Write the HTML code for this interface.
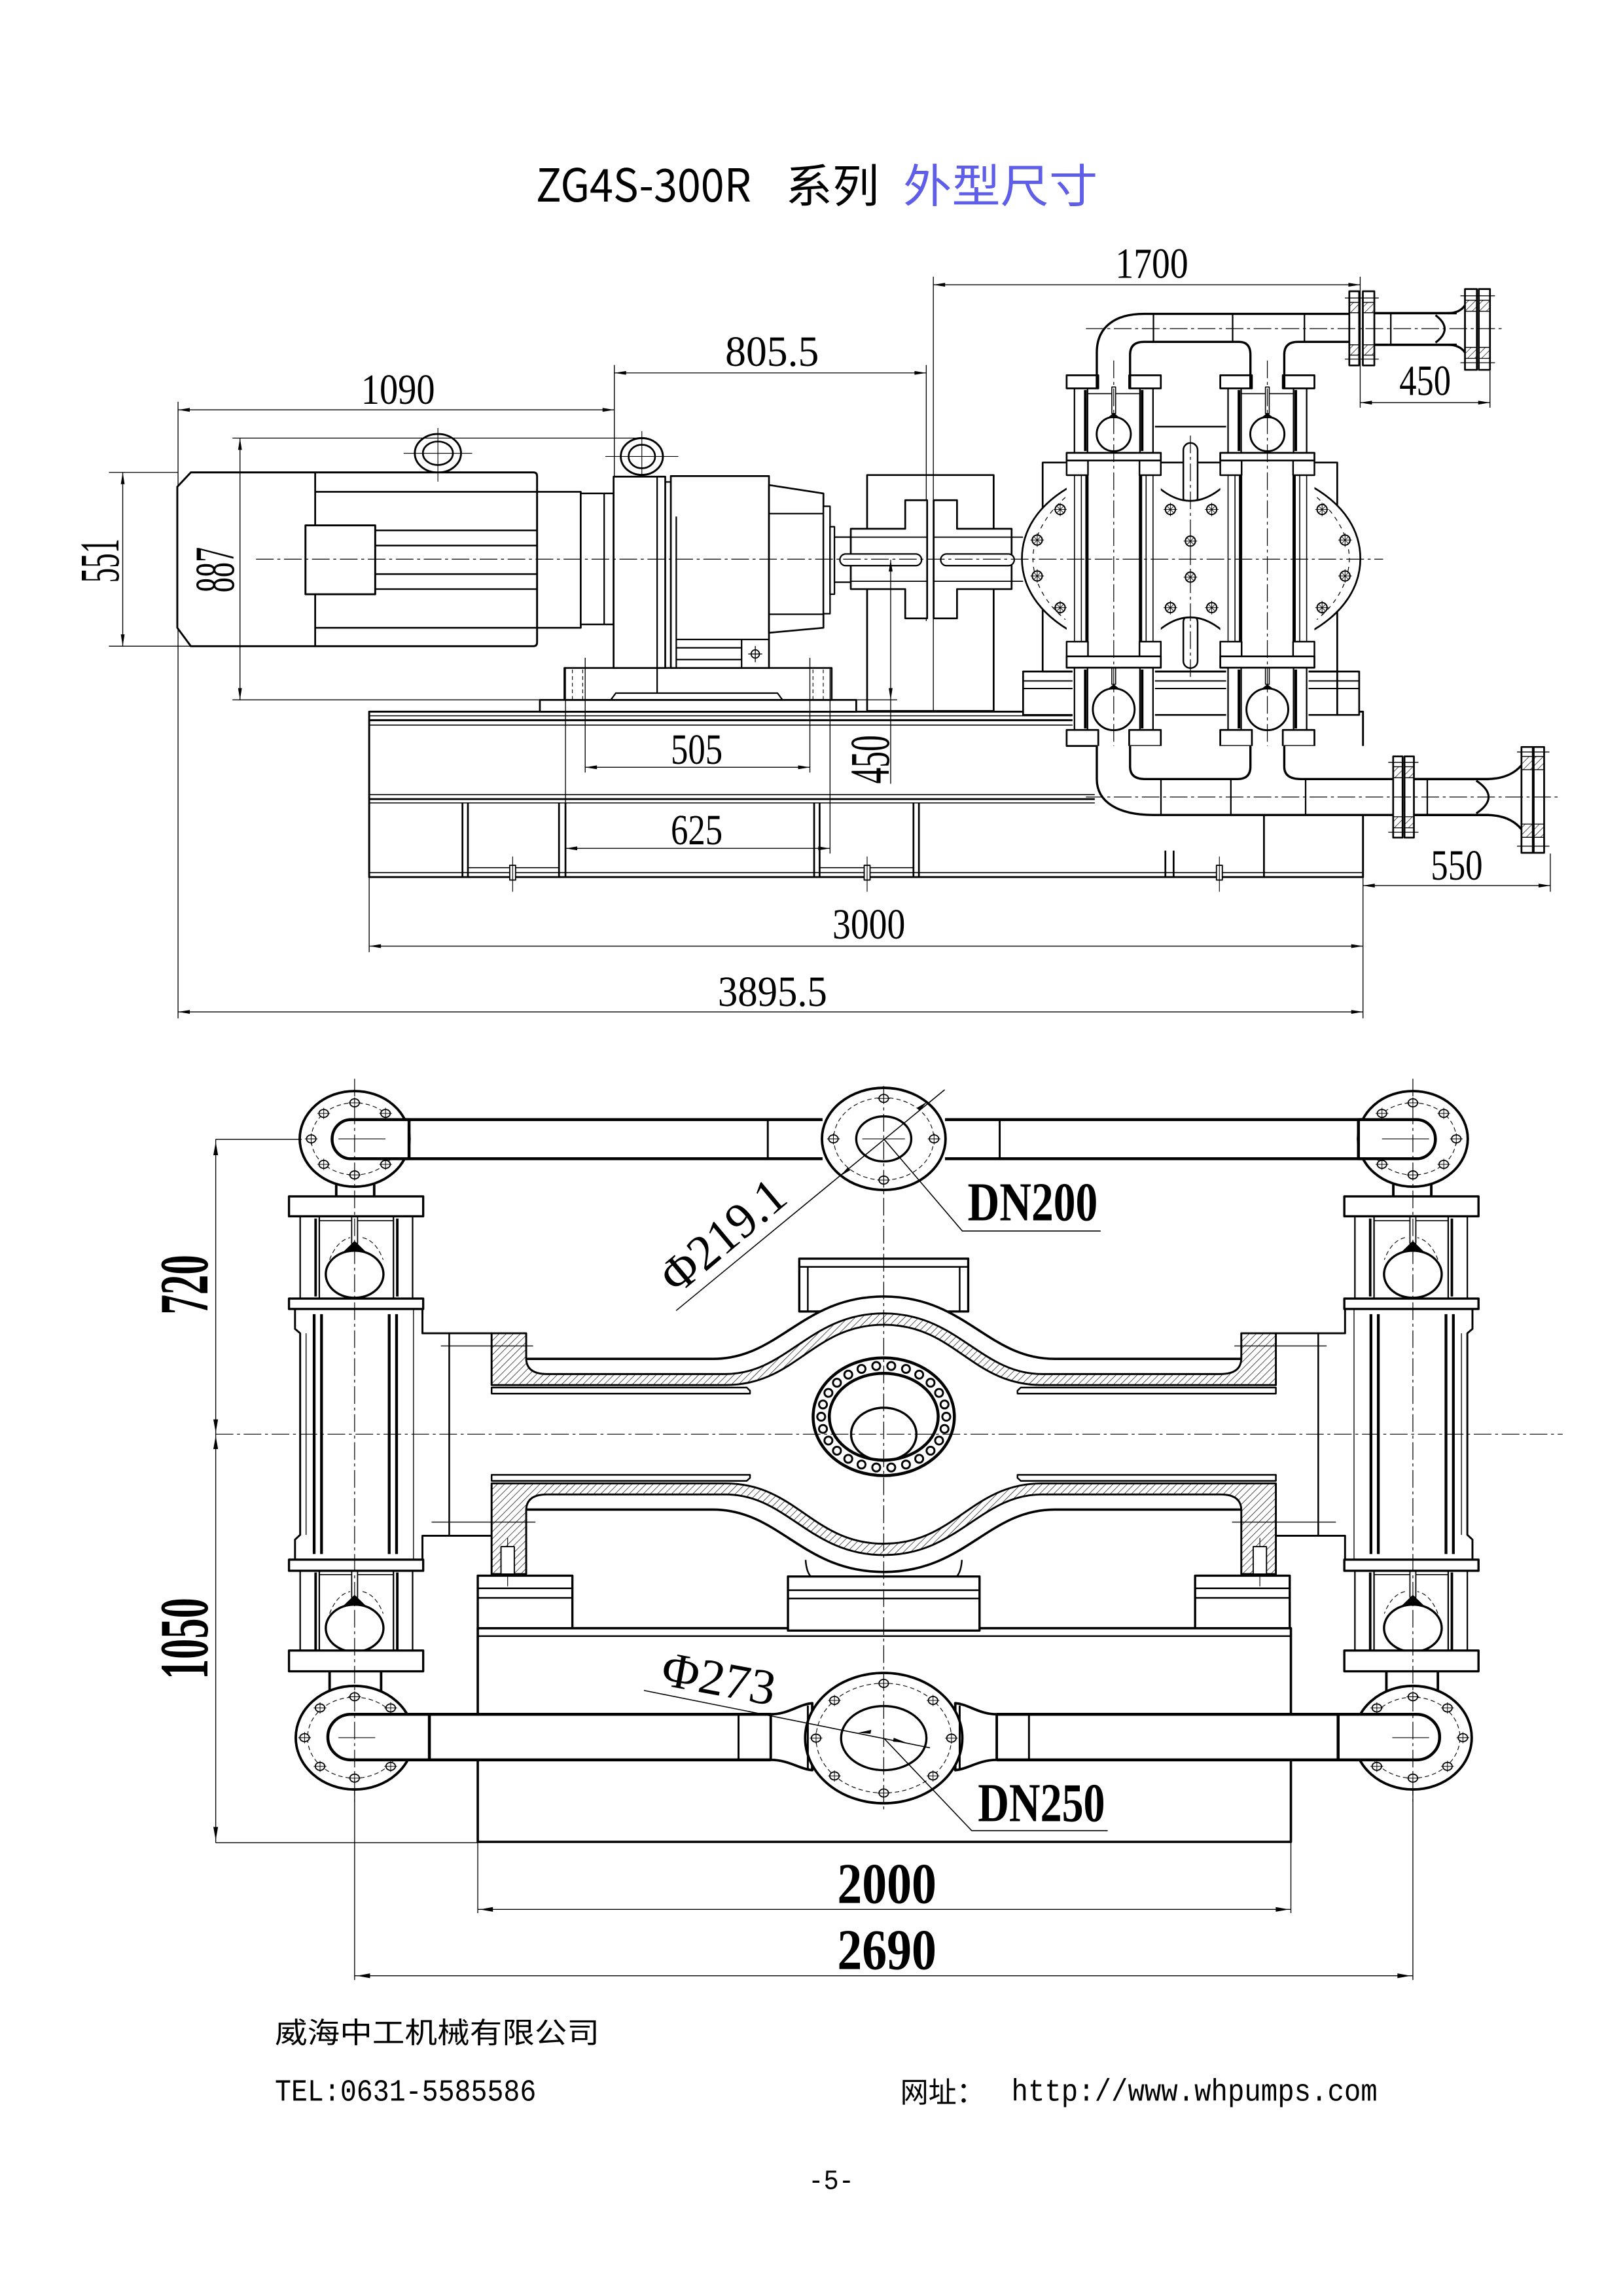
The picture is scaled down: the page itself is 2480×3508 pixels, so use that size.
<!DOCTYPE html>
<html><head><meta charset="utf-8"><title>ZG4S-300R 系列 外型尺寸</title>
<style>
html,body{margin:0;padding:0;background:#fff}
svg{display:block}
</style></head><body>
<svg xmlns="http://www.w3.org/2000/svg" xmlns:xlink="http://www.w3.org/1999/xlink" width="2480" height="3508" viewBox="0 0 1103 1560.2">
<defs>
<pattern id="hat" patternUnits="userSpaceOnUse" width="3.4" height="3.4" patternTransform="rotate(45)"><line x1="0" y1="0" x2="0" y2="3.4" stroke="#000" stroke-width=".6"/></pattern>
<g id="bt"><circle r="3.4" fill="#fff" stroke-width=".9"/><path d="M-4.6 0H4.6M0-4.6V4.6" stroke-width=".45"/><path d="M-2 -2L2 2M-2 2L2 -2" stroke-width=".4"/></g>
<g id="bolt"><ellipse rx="3.2" ry="2.7" fill="#fff" stroke-width=".8"/><path d="M-4.3 0H4.3M0-3.8V3.8" stroke-width=".45"/></g>
<!-- top view chamber (relative x) -->
<g id="ch">
 <rect x="-32" y="312.9" width="64" height="133.1" fill="#fff" stroke="none"/>
 <path stroke-width=".7" d="M-26.7 323V437M-22 323V437M22 323V437M26.7 323V437"/>
 <path stroke-width="2.2" d="M-18.2 314V445M18.2 314V445"/>
 <path stroke-width="1.1" fill="#fff" d="M-32 312.9h14.5v10h-14.5zM17.5 312.9h14.5v10h-14.5zM-32 436h14.5v10h-14.5zM17.5 436h14.5v10h-14.5z"/>
 <rect x="-28" y="263.9" width="56" height="43.8" fill="#fff" stroke="none"/>
 <path stroke-width="1" fill="#fff" d="M-26.7 263.9h8.9v43.8h-8.9zM17.8 263.9h8.9v43.8h-8.9z"/>
 <path stroke-width="1.8" d="M-19.3 265V306.5M19.3 265V306.5"/>
 <path stroke-width=".7" d="M-17.8 267.5H17.8"/>
 <circle cy="295" r="11.6" fill="#fff" stroke-width="1.3"/>
 <rect x="-1.3" y="263" width="2.6" height="18" fill="#fff" stroke-width=".7"/>
 <path d="M-4.5 284.2L0 280.5L4.5 284.2Z" fill="#000" stroke="none"/>
 <rect x="-32" y="255" width="21.5" height="8.9" fill="#fff" stroke-width="1.2"/>
 <rect x="10.5" y="255" width="21.5" height="8.9" fill="#fff" stroke-width="1.2"/>
 <rect x="-32" y="307.7" width="64" height="5.2" fill="#fff" stroke-width="1.2"/>
 <rect x="-28" y="453.7" width="56" height="42.3" fill="#fff" stroke="none"/>
 <path stroke-width="1" fill="#fff" d="M-26.7 453.7h8.9v42.3h-8.9zM17.8 453.7h8.9v42.3h-8.9z"/>
 <path stroke-width="1.8" d="M-19.3 455V495M19.3 455V495"/>
 <circle cy="482" r="14.2" fill="#fff" stroke-width="1.3"/>
 <rect x="-1.3" y="452" width="2.6" height="13" fill="#fff" stroke-width=".7"/>
 <path d="M-4.5 468.5L0 465L4.5 468.5Z" fill="#000" stroke="none"/>
 <rect x="-32" y="446" width="64" height="7.7" fill="#fff" stroke-width="1.2"/>
 <rect x="-32" y="496" width="21.5" height="10.9" fill="#fff" stroke-width="1.2"/>
 <rect x="10.5" y="496" width="21.5" height="10.9" fill="#fff" stroke-width="1.2"/>
 <path stroke-width=".55" stroke-dasharray="12 2.5 2 2.5" d="M0 245V518"/>
</g>
<!-- bottom view cage -->
<g id="cg">
 <rect x="204" y="826.5" width="77" height="55.9" fill="#fff" stroke="none"/>
 <path fill="#fff" stroke-width="1" d="M204 826.5h13v55.9h-13zM267.4 826.5h13v55.9h-13z"/>
 <path stroke-width="1.7" d="M214.5 828V881M270 828V881"/>
 <path stroke-width=".7" d="M217 829.5H267.4"/>
 <path stroke-width=".5" stroke-dasharray="3 2" d="M224 856Q229 843 238 841M246.4 841Q255.4 843 260.4 856"/>
 <ellipse cx="241" cy="865.9" rx="19.6" ry="16" fill="#fff" stroke-width="1.5"/>
 <rect x="239" y="820" width="4" height="25" fill="#fff" stroke-width=".8"/>
 <path fill="#000" stroke="none" d="M233.5 850.5L241 843.2L248.5 850.5Z"/>
</g>
</defs>
<rect width="1103" height="1560.2" fill="#fff"/>

<!-- ===================== TITLE ===================== -->
<g font-family="'Noto Sans CJK SC','WenQuanYi Zen Hei',sans-serif" font-size="31" fill="#000">
<text x="364.2" y="137" textLength="146.3" lengthAdjust="spacingAndGlyphs">ZG4S-300R</text>
<text x="533.9" y="137.5" textLength="63.6" lengthAdjust="spacingAndGlyphs">系列</text>
<text x="613.8" y="137.5" textLength="132.2" lengthAdjust="spacingAndGlyphs" fill="#5e5ee8">外型尺寸</text>
</g>

<!-- ===================== TOP VIEW (SIDE ELEVATION) ===================== -->
<g fill="none" stroke="#000" stroke-width="1.1" stroke-linejoin="round">

<!-- base frame -->
<rect x="250.9" y="483.6" width="675.4" height="112.4" fill="#fff" stroke-width="1.3"/>
<path stroke-width=".7" d="M250.9 486.4H744M250.9 492.7H744M250.9 540H744M250.9 545.6H744M250.9 593H926.3"/>
<path stroke-width="1.3" d="M250.9 489.4H744M250.9 543H744"/>
<path stroke-width="1.2" d="M314.3 545.6V596M318 545.6V596M379.9 545.6V596M384.3 545.6V596M553.3 545.6V596M557 545.6V596M620.8 545.6V596M624.5 545.6V596M859 547V596M792 578V596M797.6 578V596"/>
<path stroke-width=".7" d="M318 589.6H379.9M557 589.6H620.8"/>
<rect x="346.4" y="588" width="4" height="10" fill="#fff" stroke-width=".8"/>
<rect x="587.3" y="588" width="4" height="10" fill="#fff" stroke-width=".8"/>
<rect x="826.7" y="588" width="4" height="10" fill="#fff" stroke-width=".8"/>
<path stroke-width=".5" d="M348.4 582V606M589.3 582V606M828.7 582V606"/>

<!-- pump platform -->
<rect x="695.3" y="456.3" width="228.4" height="29.5" fill="#fff" stroke-width="1.2"/>
<path stroke-width=".9" d="M695.3 462.7H923.7M695.3 467.9H923.7"/>

<!-- extension lines passing through coupling -->
<path stroke-width=".6" d="M634.3 188V484M629.5 248V422M417.5 248V324M121 273V692M924.4 188V277M1012.6 252V277M1053.6 580V606M926.3 596V692M250.9 596V647"/>

<!-- lifting eyes -->
<ellipse cx="297.6" cy="308" rx="15.7" ry="13.1" fill="#fff" stroke-width="1.3"/>
<ellipse cx="297.6" cy="308" rx="10.2" ry="8" stroke-width="1.2"/>
<ellipse cx="436.2" cy="310.2" rx="14.3" ry="12.5" fill="#fff" stroke-width="1.3"/>
<ellipse cx="436.2" cy="310.2" rx="9" ry="8" stroke-width="1.2"/>

<!-- motor -->
<path fill="#fff" stroke-width="1.3" d="M129.7 321H362.5Q365 321 365 323.5V436.6Q365 439.1 362.5 439.1H129.7L120.5 426.6V330.8Z"/>
<path stroke-width="1.2" d="M214.2 321V439.1M214.2 334.2H394.7V426.6H214.2"/>
<rect x="394.7" y="335.3" width="22.3" height="89" fill="#fff" stroke-width="1.1"/>
<path stroke-width="1" d="M410.6 335.3V424.3"/>
<path stroke-width="1.1" d="M255 360.4H365M255 370.7H365M255 390.1H365M255 400.3H365"/>
<rect x="207.6" y="357" width="47.4" height="46.8" fill="#fff" stroke-width="1.3"/>
<path stroke-width=".5" d="M274.3 308H320.9M297.6 290.8V327.3M411.4 310.2H461M436.2 293V327"/>

<!-- gearbox -->
<rect x="366.9" y="475.6" width="215" height="8" fill="#fff" stroke-width="1.2"/>
<rect x="383.6" y="453.9" width="181.6" height="21.7" fill="#fff" stroke-width="1.2"/>
<path stroke-width="1" d="M415.1 475.6L418.5 471H528.4L531.8 475.6"/>
<path stroke-width=".5" stroke-dasharray="2.5 2" d="M389 455V475M396 455V475M552.5 455V475M559.5 455V475"/>
<rect x="417" y="323.9" width="35.1" height="130" fill="#fff" stroke-width="1.2"/>
<path stroke-width="1" d="M446.6 323.9V471"/>
<rect x="455.9" y="323.5" width="66.7" height="130.4" fill="#fff" stroke-width="1.2"/>
<path stroke-width="1" d="M452.1 327.5H455.9M459.6 351V453.9"/>
<path stroke-width="1" d="M459.6 434.5H522.6M459.6 440.2H504M459.6 448.2H504M504 434.5V453.9"/>
<circle cx="513.3" cy="444.4" r="2.8" stroke-width=".8"/>
<path stroke-width=".6" d="M513.3 439V450M508.5 444.4H518"/>
<path fill="#fff" stroke-width="1.2" d="M522.6 329.6L559.6 335.3V426.6L522.6 430Z"/>
<path stroke-width="1" d="M522.6 349H559.6M522.6 417.4H559.6"/>
<rect x="559.6" y="344" width="4.5" height="73" fill="#fff" stroke-width="1"/>
<rect x="564.1" y="357.9" width="3" height="45.9" fill="#fff" stroke-width="1"/>

<!-- coupling -->
<rect x="589.3" y="322.8" width="86" height="160.3" stroke-width="1.2"/>
<rect x="567.1" y="365" width="11.1" height="30.6" fill="#fff" stroke-width="1"/>
<path fill="#fff" stroke-width="1.2" d="M578.2 359.3H615.2V339.9H630.1V420.2H615.2V400.3H578.2Z"/>
<path fill="#fff" stroke-width="1.2" d="M687.5 359.3H650.4V339.9H634.5V420.2H650.4V400.3H687.5Z"/>
<path stroke-width=".8" d="M578.2 365H630.1M578.2 395H630.1M634.5 365H687.5M634.5 395H687.5M687.5 365H695.3M687.5 395H695.3"/>
<rect x="570.8" y="376.4" width="55.5" height="8" rx="4" fill="#fff" stroke-width="1"/>
<rect x="639.3" y="376.4" width="50" height="8" rx="4" fill="#fff" stroke-width="1"/>

<!-- pump housing -->
<rect x="708.6" y="314.3" width="200.2" height="142" stroke-width="1.2"/>
<path stroke-width="1.2" d="M908.8 456.3V486"/>
<path fill="#fff" stroke-width="1.2" d="M730 329.2C704 343 694.5 362 694.5 379.6C694.5 397 704 416 730 430.2Z"/>
<path fill="#fff" stroke-width="1.2" d="M889 329.2C915 343 924.5 362 924.5 379.6C924.5 397 915 416 889 430.2Z"/>
<path stroke-width=".55" stroke-dasharray="3 3" d="M724 338C708 352 702 368 702 379.6C702 392 708 408 724 421M895 338C911 352 917 368 917 379.6C917 392 911 408 895 421"/>
<use xlink:href="#bt" x="720.5" y="346.2"/><use xlink:href="#bt" x="704.9" y="367"/><use xlink:href="#bt" x="704.9" y="391.4"/><use xlink:href="#bt" x="720.5" y="412.9"/>
<use xlink:href="#bt" x="898.5" y="346.2"/><use xlink:href="#bt" x="914.1" y="367"/><use xlink:href="#bt" x="914.1" y="391.4"/><use xlink:href="#bt" x="898.5" y="412.9"/>
<path stroke-width="1.1" d="M783.5 289.9H835"/>
<rect x="804.2" y="301" width="9.7" height="42" rx="4.8" fill="#fff" stroke-width="1.1"/>
<rect x="804.2" y="418" width="9.7" height="36" rx="4.8" fill="#fff" stroke-width="1.1"/>
<path fill="#fff" stroke-width="1.2" d="M783.5 327.7Q809 353 834.5 327.7V432Q809 407 783.5 432Z"/>
<use xlink:href="#bt" x="795.4" y="346.2"/><use xlink:href="#bt" x="823.5" y="346.2"/><use xlink:href="#bt" x="809" y="367.7"/><use xlink:href="#bt" x="809" y="392.2"/><use xlink:href="#bt" x="795.4" y="412.9"/><use xlink:href="#bt" x="823.5" y="412.9"/>
<path stroke-width=".55" stroke-dasharray="12 2.5 2 2.5" d="M809 296V460"/>

<!-- chambers -->
<use xlink:href="#ch" transform="translate(756.9,0)"/>
<use xlink:href="#ch" transform="translate(861.3,0)"/>

<!-- top manifold -->
<path stroke-width="1.5" d="M745.4 263.9V239.5C745.4 222 758 213.3 777.4 213.3H917"/>
<path stroke-width="1.5" d="M768 263.9V241Q768 232.3 777.4 232.3H842Q849.8 232.3 849.8 241V263.9"/>
<path stroke-width="1.5" d="M872.8 263.9V241Q872.8 232.3 882 232.3H917"/>
<path stroke-width="1" d="M783.9 213.3V232.3M837.7 213.3V232.3M886.5 213.3V232.3"/>
<!-- top right flanges -->
<rect x="917" y="197.9" width="6.7" height="50.4" fill="#fff" stroke-width="1.2"/>
<rect x="926.2" y="197.9" width="7.8" height="50.4" fill="#fff" stroke-width="1.2"/>
<rect x="917" y="205.5" width="6.7" height="7" fill="url(#hat)" stroke-width=".6"/>
<rect x="926.2" y="205.5" width="7.8" height="7" fill="url(#hat)" stroke-width=".6"/>
<rect x="917" y="234.3" width="6.7" height="7" fill="url(#hat)" stroke-width=".6"/>
<rect x="926.2" y="234.3" width="7.8" height="7" fill="url(#hat)" stroke-width=".6"/>
<path stroke-width=".6" d="M914 202.5H937M914 244H937"/>
<path stroke-width="1.6" d="M934 212.8H990M934 234.3H990"/>
<path stroke-width="1" d="M945.2 212.8V234.3"/>
<path stroke-width="1.4" d="M975.6 214.2Q988 223.5 975.6 232.8"/>
<path stroke-width="1.5" d="M984 212.8Q992 212.8 995.6 207.5M984 234.3Q992 234.3 995.6 239.5"/>
<rect x="995.6" y="196.4" width="8.1" height="54.9" fill="#fff" stroke-width="1.2"/>
<rect x="1005" y="196.4" width="7.6" height="54.9" fill="#fff" stroke-width="1.2"/>
<rect x="995.6" y="204" width="8.1" height="7.5" fill="url(#hat)" stroke-width=".6"/>
<rect x="1005" y="204" width="7.6" height="7.5" fill="url(#hat)" stroke-width=".6"/>
<rect x="995.6" y="236" width="8.1" height="7.5" fill="url(#hat)" stroke-width=".6"/>
<rect x="1005" y="236" width="7.6" height="7.5" fill="url(#hat)" stroke-width=".6"/>
<path stroke-width=".6" d="M992.5 201H1016M992.5 246.5H1016"/>

<!-- bottom manifold -->
<rect x="745.4" y="506.9" width="201.4" height="46.9" fill="#fff" stroke="none"/>
<path stroke-width="1.5" d="M745.4 506.9V529.4C745.4 545 760 553.8 783.9 553.8H946.8"/>
<path stroke-width="1.5" d="M768 506.9V521Q768 529.4 778 529.4H841Q849.8 529.4 849.8 521V506.9"/>
<path stroke-width="1.5" d="M872.8 506.9V521Q872.8 529.4 884 529.4H946.8"/>
<path stroke-width="1" d="M789 529.4V553.8M836.5 529.4V553.8M887.3 529.4V553.8"/>
<rect x="946.8" y="514" width="6.4" height="55.2" fill="#fff" stroke-width="1.2"/>
<rect x="954.5" y="514" width="6.4" height="55.2" fill="#fff" stroke-width="1.2"/>
<rect x="946.8" y="521" width="6.4" height="7.5" fill="url(#hat)" stroke-width=".6"/>
<rect x="954.5" y="521" width="6.4" height="7.5" fill="url(#hat)" stroke-width=".6"/>
<rect x="946.8" y="555" width="6.4" height="7.5" fill="url(#hat)" stroke-width=".6"/>
<rect x="954.5" y="555" width="6.4" height="7.5" fill="url(#hat)" stroke-width=".6"/>
<path stroke-width=".6" d="M943.5 518H964M943.5 565.5H964"/>
<path stroke-width="1.6" d="M960.9 529.4H1012M960.9 553.8H1012"/>
<path stroke-width="1" d="M970 529.4V553.8"/>
<path stroke-width="1.4" d="M1003.3 530.5Q1020 541.6 1003.3 552.7"/>
<path stroke-width="1.5" d="M1010 529.4Q1026 529.4 1034 520M1010 553.8Q1026 553.8 1034 563.5"/>
<rect x="1034" y="507.6" width="7.7" height="71.9" fill="#fff" stroke-width="1.2"/>
<rect x="1042.3" y="507.6" width="7.1" height="71.9" fill="#fff" stroke-width="1.2"/>
<rect x="1034" y="514" width="7.7" height="9" fill="url(#hat)" stroke-width=".6"/>
<rect x="1042.3" y="514" width="7.1" height="9" fill="url(#hat)" stroke-width=".6"/>
<rect x="1034" y="560" width="7.7" height="9" fill="url(#hat)" stroke-width=".6"/>
<rect x="1042.3" y="560" width="7.1" height="9" fill="url(#hat)" stroke-width=".6"/>
<path stroke-width=".6" d="M1031 511H1053M1031 575H1053"/>

<!-- centerlines -->
<path stroke-width=".55" stroke-dasharray="12 2.5 2 2.5" d="M174 380H940M738 223.3H1022M738 541.6H1060"/>

<!-- dimension lines -->
<path stroke-width=".6" d="M634.3 193.5H924.4M417.5 253.4H629.5M121 278.5H417.5M158 297.7H433.6M163.1 297.7V475.6M158 475.6H366.9M74 321H121M74 439.1H130M83.4 321V439.1M397.7 447V525M550.4 447V525M397.7 521.4H550.4M384.3 454V580M564.1 454V580M384.3 576.5H564.1M605.3 380.4V532.6M582 475.6H609.7M924.4 273.6H1012.6M926.3 601.8H1053.6M250.9 642.9H926.3M121 687.6H926.3"/>
<g fill="#000" stroke="none">
<path d="M634.3 193.5l8-1.3v2.6zM924.4 193.5l-8-1.3v2.6zM417.5 253.4l8-1.3v2.6zM629.5 253.4l-8-1.3v2.6zM121 278.5l8-1.3v2.6zM417.5 278.5l-8-1.3v2.6z"/>
<path d="M163.1 297.7l-1.3 8h2.6zM163.1 475.6l-1.3-8h2.6zM83.4 321l-1.3 8h2.6zM83.4 439.1l-1.3-8h2.6zM605.3 380.4l-1.3 8h2.6zM605.3 475.6l-1.3-8h2.6z"/>
<path d="M397.7 521.4l8-1.3v2.6zM550.4 521.4l-8-1.3v2.6zM384.3 576.5l8-1.3v2.6zM564.1 576.5l-8-1.3v2.6zM924.4 273.6l8-1.3v2.6zM1012.6 273.6l-8-1.3v2.6zM926.3 601.8l8-1.3v2.6zM1053.6 601.8l-8-1.3v2.6zM250.9 642.9l8-1.3v2.6zM926.3 642.9l-8-1.3v2.6zM121 687.6l8-1.3v2.6zM926.3 687.6l-8-1.3v2.6z"/>
</g>
</g>

<!-- top view dimension texts -->
<g font-family="'Liberation Serif',serif" font-size="29" fill="#000" text-anchor="middle">
<text x="782.8" y="188.7" textLength="49.5" lengthAdjust="spacingAndGlyphs">1700</text>
<text x="524.7" y="248.6" textLength="63.7" lengthAdjust="spacingAndGlyphs">805.5</text>
<text x="270.5" y="274.5" textLength="50.2" lengthAdjust="spacingAndGlyphs">1090</text>
<text x="590.5" y="637.7" textLength="49.5" lengthAdjust="spacingAndGlyphs">3000</text>
<text x="525" y="683.6" textLength="74.3" lengthAdjust="spacingAndGlyphs">3895.5</text>
<text x="473.5" y="519" textLength="35.2" lengthAdjust="spacingAndGlyphs">505</text>
<text x="473.5" y="573.7" textLength="35.2" lengthAdjust="spacingAndGlyphs">625</text>
<text x="968.5" y="268.4" textLength="35" lengthAdjust="spacingAndGlyphs">450</text>
<text x="990" y="597.8" textLength="35.3" lengthAdjust="spacingAndGlyphs">550</text>
<g font-size="38">
<text transform="translate(68,381) rotate(-90)" x="0" y="12.5" textLength="30" lengthAdjust="spacingAndGlyphs">551</text>
<text transform="translate(146.3,387.2) rotate(-90)" x="0" y="12.5" textLength="30.8" lengthAdjust="spacingAndGlyphs">887</text>
<text transform="translate(591.5,516.1) rotate(-90)" x="0" y="12.5" textLength="33" lengthAdjust="spacingAndGlyphs">450</text>
</g>
</g>

<!-- ===================== BOTTOM VIEW (PLAN) ===================== -->
<g fill="none" stroke="#000" stroke-width="1.2" stroke-linejoin="round">

<!-- base -->
<rect x="324.7" y="1106.4" width="552.6" height="145.2" fill="#fff" stroke-width="1.6"/>
<path stroke-width="1.1" d="M324.7 1111.8H877.3"/>
<!-- lower center block -->
<rect x="535.5" y="1071.3" width="130.2" height="36.7" fill="#fff" stroke-width="1.5"/>
<path stroke-width="1.1" d="M535.5 1080.6H665.7M535.5 1086.2H665.7M547.5 1060Q548 1068 551 1071.3M653.7 1060Q653.2 1068 650.2 1071.3"/>

<!-- left half (mirrored for right) -->
<g id="LH">
 <!-- top pipe -->
 <path stroke-width="2" d="M238.5 760.8H559M238.5 787.4H559"/>
 <path stroke-width="1.3" d="M521.8 760.8V787.4"/>
 <!-- top-left flange -->
 <ellipse cx="241" cy="773.9" rx="37.3" ry="32.5" fill="#fff" stroke-width="1.7"/>
 <ellipse cx="241" cy="773.9" rx="29.5" ry="24.5" stroke-width=".5" stroke-dasharray="3 2"/>
 <use xlink:href="#bolt" x="241" y="749.4"/><use xlink:href="#bolt" x="241" y="798.4"/><use xlink:href="#bolt" x="211.5" y="773.9"/>
 <use xlink:href="#bolt" x="220" y="756.6"/><use xlink:href="#bolt" x="262" y="756.6"/><use xlink:href="#bolt" x="220" y="791.2"/><use xlink:href="#bolt" x="262" y="791.2"/>
 <path fill="#fff" stroke-width="2" d="M278 760.8H238.5A12.8 13.3 0 0 0 238.5 787.4H278Z"/>
 <path stroke-width=".5" d="M230 773.9H262"/>
 <path stroke-width="1.7" d="M228.5 805V814M254.3 805V814"/>
 <!-- column body -->
 <rect x="200.5" y="889.5" width="86.6" height="170.3" fill="#fff" stroke="none"/>
 <path stroke-width="1.3" d="M200.5 889.5V903L204 906V1043L200.5 1046.2V1059.8"/>
 <path stroke-width=".6" d="M281 889.5V1059.8M208 906V1043"/>
 <path stroke-width="1.9" d="M213.5 893V1056M218.5 893V1056M264.5 893V1056M269.5 893V1056"/>
 <path stroke-width="1.3" d="M287.1 889.5V906H334.1M287.1 1059.8V1043.6H334.1"/>
 <path stroke-width="1.1" d="M305.3 906V1043.6"/>
 <path stroke-width=".6" d="M299.6 914.6H362.3M293.3 1034.3H363.9"/>
 <!-- cages -->
 <use xlink:href="#cg"/>
 <use xlink:href="#cg" y="240.5"/>
 <!-- caps -->
 <rect x="196.4" y="813" width="91.2" height="13.5" fill="#fff" stroke-width="1.5"/>
 <rect x="196.4" y="882.4" width="91.2" height="7.1" fill="#fff" stroke-width="1.5"/>
 <rect x="196.4" y="1059.8" width="91.2" height="7.6" fill="#fff" stroke-width="1.5"/>
 <rect x="196.4" y="1121.6" width="91.2" height="14.1" fill="#fff" stroke-width="1.5"/>
 <path stroke-width="1.7" d="M224 1135.7V1150M259 1135.7V1150"/>
 <!-- lower left block -->
 <rect x="324.7" y="1070.7" width="64.3" height="35.7" fill="#fff" stroke-width="1.5"/>
 <path stroke-width="1.1" d="M324.7 1079.3H389M324.7 1085.8H389"/>
 <rect x="340.5" y="1051" width="9" height="18.6" fill="#fff" stroke-width=".8"/>
 <path stroke-width=".5" d="M345 1045V1078M340.5 1055H349.5"/>
 <!-- bottom pipe -->
 <rect x="291.8" y="1164.9" width="232" height="31" fill="#fff" stroke="none"/>
 <path stroke-width="2" d="M291.8 1164.9H523.8M291.8 1195.9H523.8"/>
 <path stroke-width="1.3" d="M501.9 1164.9V1195.9"/>
 <path fill="#fff" stroke-width="1.7" d="M523.8 1164.9C536 1164.9 543 1158 552 1157.4V1202.9C543 1202 536 1195.9 523.8 1195.9Z"/>
 <ellipse cx="241" cy="1180.8" rx="40" ry="35.2" fill="#fff" stroke-width="1.7"/>
 <ellipse cx="241" cy="1180.8" rx="32" ry="27.5" stroke-width=".5" stroke-dasharray="3 2"/>
 <use xlink:href="#bolt" x="241" y="1153"/><use xlink:href="#bolt" x="241" y="1208.3"/><use xlink:href="#bolt" x="207" y="1180.8"/>
 <use xlink:href="#bolt" x="217.5" y="1160.6"/><use xlink:href="#bolt" x="265.5" y="1160.6"/><use xlink:href="#bolt" x="217.5" y="1200.3"/><use xlink:href="#bolt" x="265.5" y="1200.3"/>
 <path fill="#fff" stroke-width="2" d="M291.8 1164.9H238.5A15.7 15.5 0 0 0 238.5 1195.9H291.8Z"/>
 <path stroke-width=".5" d="M230 1180.8H255"/>
 <!-- column centerline -->
 <path stroke-width=".55" stroke-dasharray="12 2.5 2 2.5" d="M241 733V1226"/>
</g>
<use xlink:href="#LH" transform="matrix(-1 0 0 1 1201.2 0)"/>

<!-- top central block -->
<rect x="543.2" y="855.3" width="114.8" height="35.9" fill="#fff" stroke-width="1.5"/>
<path stroke-width="1.1" d="M543.2 860.9H658M549 860.9V891.2M652.2 860.9V891.2"/>

<!-- upper housing -->
<path fill="#fff" stroke="none" d="M357.6 923.4H484.4C530 923.4 545 881 600.6 881C656.2 881 671.2 923.4 716.8 923.4H843.6V947H357.6Z"/>
<path fill="url(#hat)" stroke-width="1.3" d="M334.1 906H357.6V923.4Q358 933.7 371.7 933.7H493C535 933.7 550 892.5 600.6 892.5C651.2 892.5 666.2 933.7 708.2 933.7H829.5Q843.2 933.7 843.6 923.4V906H867.1V941.2H708.2C660 941.2 649 900.2 600.6 900.2C552.2 900.2 541.2 941.2 493 941.2H334.1Z"/>
<path stroke-width="1.6" d="M357.6 923.4H484.4C530 923.4 545 881 600.6 881C656.2 881 671.2 923.4 716.8 923.4H843.6"/>
<path fill="#fff" stroke-width="1.1" d="M334.1 942.9H507.5L509.7 945V947H334.1ZM867.1 942.9H693.7L691.5 945V947H867.1Z"/>

<!-- lower housing -->
<path fill="#fff" stroke="none" d="M357.6 1025.8H484.4C530 1025.8 545 1068.2 600.6 1068.2C656.2 1068.2 671.2 1025.8 716.8 1025.8H843.6V1002H357.6Z"/>
<path fill="url(#hat)" stroke-width="1.3" d="M334.1 1069.6H357.6V1025.8Q358 1015.5 371.7 1015.5H493C535 1015.5 550 1056.7 600.6 1056.7C651.2 1056.7 666.2 1015.5 708.2 1015.5H829.5Q843.2 1015.5 843.6 1025.8V1069.6H867.1V1008H708.2C660 1008 649 1049 600.6 1049C552.2 1049 541.2 1008 493 1008H334.1Z"/>
<path stroke-width="1.6" d="M357.6 1025.8H484.4C530 1025.8 545 1068.2 600.6 1068.2C656.2 1068.2 671.2 1025.8 716.8 1025.8H843.6"/>
<path fill="#fff" stroke-width="1.1" d="M334.1 1002.2H509.7V1004.3L507.5 1006.3H334.1ZM867.1 1002.2H691.5V1004.3L693.7 1006.3H867.1Z"/>
<rect x="340.5" y="1051" width="9" height="18.6" fill="#fff" stroke-width=".8"/>
<rect x="851.7" y="1051" width="9" height="18.6" fill="#fff" stroke-width=".8"/>

<!-- bearing ring -->
<ellipse cx="600.6" cy="962.7" rx="48" ry="40" fill="#fff" stroke-width="2"/>
<ellipse cx="600.6" cy="962.7" rx="37" ry="29.5" stroke-width="2"/>
<g fill="#fff" stroke-width="1.3">
<circle cx="643.1" cy="962.7" r="2.7"/><circle cx="641.9" cy="971" r="2.7"/><circle cx="638.2" cy="978.9" r="2.7"/><circle cx="632.4" cy="985.8" r="2.7"/><circle cx="624.7" cy="991.3" r="2.7"/><circle cx="615.7" cy="995.2" r="2.7"/><circle cx="605.7" cy="997.2" r="2.7"/><circle cx="595.5" cy="997.2" r="2.7"/><circle cx="585.5" cy="995.2" r="2.7"/><circle cx="576.5" cy="991.3" r="2.7"/><circle cx="568.8" cy="985.8" r="2.7"/><circle cx="563" cy="978.9" r="2.7"/><circle cx="559.3" cy="971" r="2.7"/>
<circle cx="558.1" cy="962.7" r="2.7"/><circle cx="559.3" cy="954.4" r="2.7"/><circle cx="563" cy="946.5" r="2.7"/><circle cx="568.8" cy="939.6" r="2.7"/><circle cx="576.5" cy="934.1" r="2.7"/><circle cx="585.5" cy="930.2" r="2.7"/><circle cx="595.5" cy="928.2" r="2.7"/><circle cx="605.7" cy="928.2" r="2.7"/><circle cx="615.7" cy="930.2" r="2.7"/><circle cx="624.7" cy="934.1" r="2.7"/><circle cx="632.4" cy="939.6" r="2.7"/><circle cx="638.2" cy="946.5" r="2.7"/><circle cx="641.9" cy="954.4" r="2.7"/>
</g>
<ellipse cx="600.6" cy="974.6" rx="22.2" ry="18" stroke-width="1.5"/>

<!-- center top flange -->
<ellipse cx="600.6" cy="773.9" rx="42" ry="34.7" fill="#fff" stroke-width="1.7"/>
<ellipse cx="600.6" cy="773.9" rx="34" ry="28" stroke-width=".5" stroke-dasharray="3 2"/>
<use xlink:href="#bolt" x="600.6" y="746.4"/><use xlink:href="#bolt" x="600.6" y="801.9"/><use xlink:href="#bolt" x="566.4" y="773.9"/><use xlink:href="#bolt" x="634.8" y="773.9"/>
<ellipse cx="600.6" cy="773.9" rx="18.7" ry="15.3" stroke-width="1.5"/>
<path stroke-width=".5" d="M586 773.9H615"/>

<!-- center bottom flange -->
<ellipse cx="600.6" cy="1181.1" rx="53.4" ry="44.3" fill="#fff" stroke-width="1.7"/>
<path stroke-width="1.3" d="M549 1159V1203M652.2 1159V1203"/>
<ellipse cx="600.6" cy="1181.1" rx="46" ry="37.3" stroke-width=".5" stroke-dasharray="3 2"/>
<use xlink:href="#bolt" x="600.6" y="1143.9"/><use xlink:href="#bolt" x="567.1" y="1155.5"/><use xlink:href="#bolt" x="634.1" y="1155.5"/><use xlink:href="#bolt" x="554.6" y="1181.1"/><use xlink:href="#bolt" x="646.6" y="1181.1"/><use xlink:href="#bolt" x="567.1" y="1206.8"/><use xlink:href="#bolt" x="634.1" y="1206.8"/><use xlink:href="#bolt" x="600.6" y="1218.4"/>
<ellipse cx="600.6" cy="1181.1" rx="29" ry="21.8" stroke-width="1.5"/>

<!-- centerlines -->
<path stroke-width=".55" stroke-dasharray="12 2.5 2 2.5" d="M146.6 974.6H1062M600.6 738V1230"/>

<!-- leaders -->
<path stroke-width=".7" d="M600.6 773.9L654 836.5H748M600.6 1181.1L660.4 1244H752.8M459.5 890.6L642 740.5M437.6 1148.7L632 1187.7"/>
<g fill="#000" stroke="none">
<path d="M570.9 799.2L577.9 795.1L576.3 793.1Z"/>
<path d="M630.3 748.6L624.9 754.7L623.3 752.7Z"/>
<path d="M583 1177.5L591.6 1178.1L592.1 1175.5Z"/>
<path d="M616 1184.2L607.4 1180.9L606.9 1183.5Z"/>
</g>

<!-- dimension lines -->
<path stroke-width=".6" d="M146.6 774.2H205M146.6 774.2V1252.2M146.6 1252.2H324.7M324.7 1251.6V1300M877.3 1251.6V1300M324.7 1297.5H877.3M241 1216V1345.5M960.2 1216V1345.5M241 1342.6H960.2"/>
<g fill="#000" stroke="none">
<path d="M146.6 776l-1.6 9h3.2zM146.6 973.5l-1.6-9h3.2zM146.6 975.7l-1.6 9h3.2zM146.6 1250.5l-1.6-9h3.2z"/>
<path d="M326 1297.5l9-1.6v3.2zM876 1297.5l-9-1.6v3.2zM242.5 1342.6l9-1.6v3.2zM958.7 1342.6l-9-1.6v3.2z"/>
</g>
</g>

<!-- bottom view texts -->
<g font-family="'Liberation Serif',serif" fill="#000">
<g font-weight="bold" font-size="39" text-anchor="middle">
<text x="602.7" y="1293.2" textLength="67.4" lengthAdjust="spacingAndGlyphs">2000</text>
<text x="602.7" y="1338" textLength="67.4" lengthAdjust="spacingAndGlyphs">2690</text>
</g>
<g font-weight="bold" font-size="37">
<text x="657.6" y="829.2" textLength="88.4" lengthAdjust="spacingAndGlyphs">DN200</text>
<text x="664.6" y="1237.6" textLength="86.4" lengthAdjust="spacingAndGlyphs">DN250</text>
</g>
<g font-weight="bold" font-size="47" text-anchor="middle">
<text transform="translate(125.5,873) rotate(-90)" x="0" y="15.5" textLength="40.6" lengthAdjust="spacingAndGlyphs">720</text>
<text transform="translate(125.5,1113.5) rotate(-90)" x="0" y="15.5" textLength="55.5" lengthAdjust="spacingAndGlyphs">1050</text>
</g>
<g font-size="34" text-anchor="middle">
<text transform="translate(491.4,839.9) rotate(-40)" x="0" y="11" textLength="100" lengthAdjust="spacingAndGlyphs">Φ219.1</text>
<text transform="translate(488.5,1141) rotate(10.5)" x="0" y="11" textLength="78" lengthAdjust="spacingAndGlyphs">Φ273</text>
</g>
</g>

<!-- ===================== FOOTER ===================== -->
<g fill="#000">
<text x="186.8" y="1388" font-family="'Noto Sans CJK SC','WenQuanYi Zen Hei',sans-serif" font-size="19.5" textLength="220.6" lengthAdjust="spacingAndGlyphs">威海中工机械有限公司</text>
<text x="186.8" y="1427.5" font-family="'Liberation Mono',monospace" font-size="21" textLength="177.6" lengthAdjust="spacingAndGlyphs">TEL:0631-5585586</text>
<text x="611.8" y="1428.5" font-family="'Noto Sans CJK SC','WenQuanYi Zen Hei',sans-serif" font-size="19.5" textLength="57.5" lengthAdjust="spacingAndGlyphs">网址：</text>
<text x="687.4" y="1427.5" font-family="'Liberation Mono',monospace" font-size="21" textLength="248.7" lengthAdjust="spacingAndGlyphs">http://www.whpumps.com</text>
<text x="564.9" y="1487.5" text-anchor="middle" font-family="'Liberation Mono',monospace" font-size="19" textLength="31" lengthAdjust="spacingAndGlyphs">-5-</text>
</g>
</svg>
</body></html>
